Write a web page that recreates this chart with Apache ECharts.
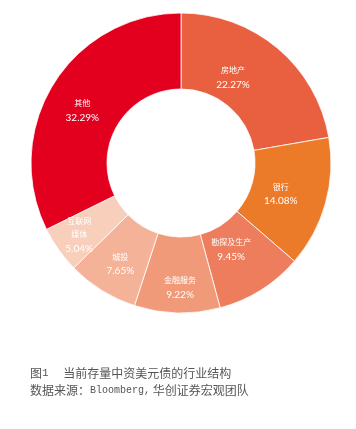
<!DOCTYPE html>
<html><head><meta charset="utf-8">
<script src="https://cdn.jsdelivr.net/npm/echarts@6/dist/echarts.min.js"></script>
<style>html,body{margin:0;padding:0;background:#fff}#c{width:356px;height:429px}</style>
</head><body><div id="c"></div>
<script>
var categories = ['房地产', '银行', '勘探及生产', '金融服务', '城投', '互联网\n媒体', '其他'];
var values = [22.27, 14.08, 9.45, 9.22, 7.65, 5.04, 32.29];
var colors = ['#E8603F', '#EC7B29', '#EE7D5D', '#F19A79', '#F4B398', '#F7CFBB', '#E2001E'];
var labelOffsets = [[-22, 3], [-11, 1], [-11, -10], [2, 10], [0, 4], [-8, 6], [-1, 9]];

var chart = echarts.init(document.getElementById('c'), null, {renderer: 'canvas'});
var data = categories.map(function (n, i) {
  return {
    name: n, value: values[i],
    itemStyle: {color: colors[i]},
    label: {offset: labelOffsets[i]}
  };
});
chart.setOption({
  animation: false,
  backgroundColor: '#fff',
  series: [{
    type: 'pie',
    center: [181, 163],
    radius: [74, 150],
    startAngle: 90,
    clockwise: true,
    silent: true,
    itemStyle: {borderColor: '#fff', borderWidth: 0.8},
    label: {
      show: true,
      position: 'inside',
      color: '#fff',
      formatter: function (p) { return '{n|' + p.name.split('\n').join('}\n{n|') + '}\n{v|' + p.value.toFixed(2) + '%}'; },
      rich: {
        n: {fontSize: 8, color: '#fff', fontFamily: 'Noto Sans CJK SC', lineHeight: 13},
        v: {fontSize: 10, color: '#fff', fontFamily: 'Lato', lineHeight: 16}
      }
    },
    labelLine: {show: false},
    data: data
  }],
  graphic: [
    {type: 'text', left: 30, top: 367, style: {
      text: '{c|图}{m|1}{c|　 当前存量中资美元债的行业结构}',
      rich: {
        c: {fontSize: 12, fontFamily: 'Noto Sans CJK SC', fill: '#555'},
        m: {fontSize: 11, fontFamily: 'Liberation Mono', fill: '#555'}
      }
    }},
    {type: 'text', left: 30, top: 384, style: {
      text: '{c|数据来源：}{m|Bloomberg,}{c| 华创证券宏观团队}',
      rich: {
        c: {fontSize: 12, fontFamily: 'Noto Sans CJK SC', fill: '#555'},
        m: {fontSize: 10, fontFamily: 'Liberation Mono', fill: '#555'}
      }
    }}
  ]
});
</script></body></html>
